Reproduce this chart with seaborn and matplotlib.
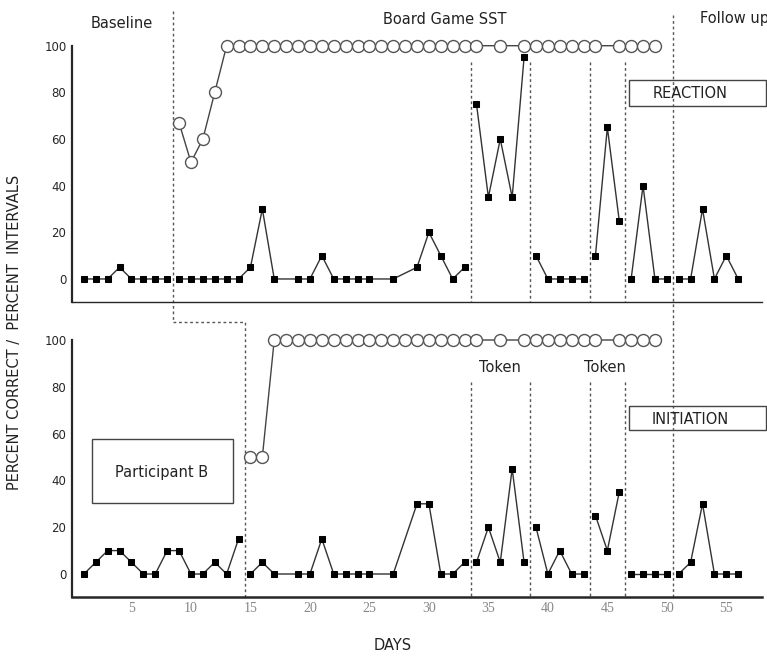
import numpy as np
import pandas as pd
import matplotlib.pyplot as plt
import seaborn as sns
from matplotlib.patches import Rectangle

# -- data (days, percent)
react_sq_days = [1, 2, 3, 4, 5, 6, 7, 8,
                 9, 10, 11, 12, 13, 14, 15, 16, 17, 19, 20, 21, 22, 23, 24, 25,
                 27, 29, 30, 31, 32, 33,
                 34, 35, 36, 37, 38,
                 39, 40, 41, 42, 43,
                 44, 45, 46,
                 47, 48, 49, 50,
                 51, 52, 53, 54, 55, 56]
react_sq_vals = [0, 0, 0, 5, 0, 0, 0, 0,
                 0, 0, 0, 0, 0, 0, 5, 30, 0, 0, 0, 10, 0, 0, 0, 0,
                 0, 5, 20, 10, 0, 5,
                 75, 35, 60, 35, 95,
                 10, 0, 0, 0, 0,
                 10, 65, 25,
                 0, 40, 0, 0,
                 0, 0, 30, 0, 10, 0]

init_sq_days = [1, 2, 3, 4, 5, 6, 7, 8, 9, 10, 11, 12, 13, 14,
                15, 16, 17, 19, 20, 21, 22, 23, 24, 25,
                27, 29, 30, 31, 32, 33,
                34, 35, 36, 37, 38,
                39, 40, 41, 42, 43,
                44, 45, 46,
                47, 48, 49, 50,
                51, 52, 53, 54, 55, 56]
init_sq_vals = [0, 5, 10, 10, 5, 0, 0, 10, 10, 0, 0, 5, 0, 15,
                0, 5, 0, 0, 0, 15, 0, 0, 0, 0,
                0, 30, 30, 0, 0, 5,
                5, 20, 5, 45, 5,
                20, 0, 10, 0, 0,
                25, 10, 35,
                0, 0, 0, 0,
                0, 5, 30, 0, 0, 0]

react_ci_days = list(range(9, 35)) + [36] + list(range(38, 45)) + list(range(46, 50))
react_ci_vals = [67, 50, 60, 80] + [100] * (len(react_ci_days) - 4)

init_ci_days = list(range(15, 35)) + [36] + list(range(38, 45)) + list(range(46, 50))
init_ci_vals = [50, 50] + [100] * (len(init_ci_days) - 2)

react_phases = [8.5, 33.5, 38.5, 43.5, 46.5, 50.5]
init_phases = [14.5, 33.5, 38.5, 43.5, 46.5, 50.5]
token_lines = [33.5, 38.5, 43.5, 46.5]

W, H = 767, 660


def make_df(days, vals, phases=None):
    df = pd.DataFrame({"day": days, "value": vals})
    if phases is None:
        df["seg"] = 0
    else:
        df["seg"] = np.searchsorted(phases, df["day"].to_numpy())
    return df


def draw_series(ax, sq_df, ci_df):
    sns.lineplot(data=ci_df, x="day", y="value", units="seg", estimator=None,
                 color="#444444", linewidth=1.0, marker="o", markersize=8.6,
                 markerfacecolor="white", markeredgecolor="#555555",
                 markeredgewidth=1.0, clip_on=False, zorder=3, ax=ax)
    sns.lineplot(data=sq_df, x="day", y="value", units="seg", estimator=None,
                 color="#333333", linewidth=1.0, marker="s", markersize=4,
                 markerfacecolor="black", markeredgecolor="black",
                 clip_on=False, zorder=3, ax=ax)


def style_axes(ax, show_labels):
    ax.set_xlim(0, 58)
    ax.set_ylim(-10, 100)
    ax.set_xticks(range(5, 56, 5))
    ax.set_xticks(range(1, 59), minor=True)
    ax.set_yticks(range(0, 101, 20))
    ax.tick_params(axis="x", which="both", direction="in", length=3.5,
                   width=1.0, colors="#222222")
    ax.tick_params(axis="y", direction="in", length=3.5, width=1.0,
                   labelsize=8.5, pad=4)
    for s in ["top", "right"]:
        ax.spines[s].set_visible(False)
    ax.spines["left"].set_linewidth(1.6)
    ax.set_xlabel("")
    ax.set_ylabel("")
    if show_labels:
        ax.spines["bottom"].set_linewidth(1.8)
        for lab in ax.get_xticklabels():
            lab.set_fontfamily("Liberation Serif")
            lab.set_fontsize(10)
            lab.set_color("#888888")
    else:
        ax.spines["bottom"].set_linewidth(1.0)
        ax.set_xticklabels([])


sns.set_style("white")
plt.rcParams["font.family"] = ["DejaVu Sans"]

fig = plt.figure(figsize=(W / 100, H / 100), dpi=100)
ax_top = fig.add_axes([72 / W, 1 - 302.3 / H, 690 / W, 256.6 / H])
ax_bot = fig.add_axes([72 / W, 1 - 597.4 / H, 690 / W, 257.4 / H])
for a in (ax_top, ax_bot):
    a.patch.set_alpha(0)

dash = dict(color="#555555", linewidth=1.0, linestyle=(0, (2, 2)),
            clip_on=False, zorder=1)

# -- REACTION panel
draw_series(ax_top, make_df(react_sq_days, react_sq_vals, react_phases),
            make_df(react_ci_days, react_ci_vals))
style_axes(ax_top, show_labels=False)
ax_top.plot([8.5, 8.5], [115, -18.4], **dash)
ax_top.plot([50.5, 50.5], [113, -18.4], **dash)
for d in token_lines:
    ax_top.plot([d, d], [93, -10], **dash)

# -- INITIATION panel
draw_series(ax_bot, make_df(init_sq_days, init_sq_vals, init_phases),
            make_df(init_ci_days, init_ci_vals))
style_axes(ax_bot, show_labels=True)
ax_bot.plot([8.5, 14.5, 14.5], [107.7, 107.7, -10], **dash)
ax_bot.plot([50.5, 50.5], [107.7, -10], **dash)
for d in token_lines:
    ax_bot.plot([d, d], [82, -10], **dash)


def ftext(x, y, s, **kw):
    fig.text(x / W, 1 - y / H, s, ha="center", va="center",
             color="#222222", **kw)


def fbox(x0, y0, x1, y1):
    fig.add_artist(Rectangle((x0 / W, 1 - y1 / H), (x1 - x0) / W,
                             (y1 - y0) / H, transform=fig.transFigure,
                             fill=False, edgecolor="#444444",
                             linewidth=1.0, zorder=5))


ftext(122, 24, "Baseline", fontsize=10.5)
ftext(445, 19, "Board Game SST", fontsize=10.5)
ftext(734, 19, "Follow up", fontsize=10.5)
ftext(500, 367, "Token", fontsize=10.5)
ftext(605, 367, "Token", fontsize=10.5)

fbox(629, 80, 766, 106)
ftext(690, 94, "REACTION", fontsize=10.5)
fbox(629, 406, 766, 430)
ftext(690, 419, "INITIATION", fontsize=10.5)
fbox(92, 439, 233, 503)
ftext(162, 473, "Participant B", fontsize=10.5)

ftext(393, 646, "DAYS", fontsize=10.5)
fig.text(15 / W, 1 - 332 / H, "PERCENT CORRECT /  PERCENT  INTERVALS",
         rotation=90, ha="center", va="center", fontsize=10.5,
         color="#222222")

fig.savefig("out.png", dpi=100)
